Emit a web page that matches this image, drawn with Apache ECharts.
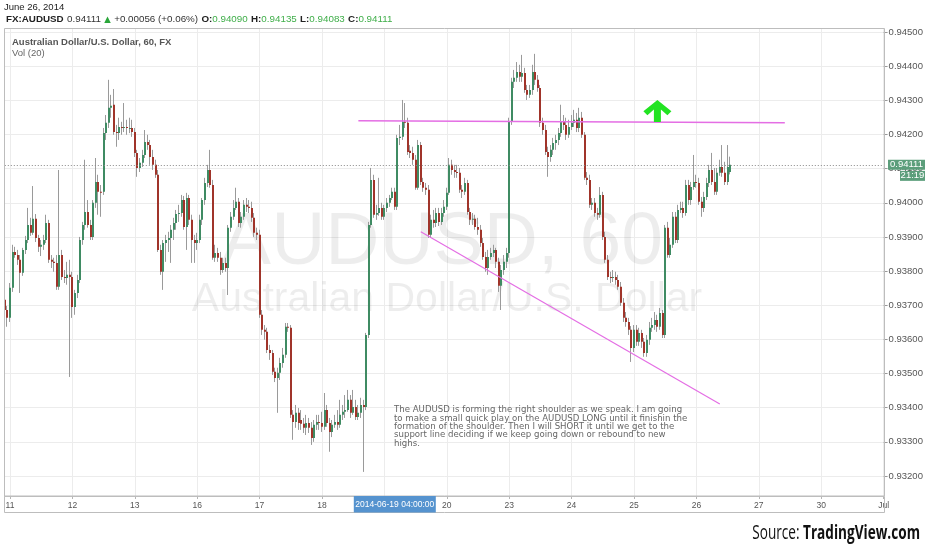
<!DOCTYPE html>
<html><head><meta charset="utf-8">
<script src="https://cdn.jsdelivr.net/npm/echarts/dist/echarts.min.js"></script>
<style>html,body{margin:0;padding:0;background:#fff}#c{width:932px;height:550px}</style>
</head><body><div id="c"></div>
<script>
// ---- time axis (hourly bars, FX trading days) ----
const tradingDays = ['2014-06-11','2014-06-12','2014-06-13','2014-06-16','2014-06-17','2014-06-18','2014-06-19','2014-06-20','2014-06-23','2014-06-24','2014-06-25','2014-06-26','2014-06-27','2014-06-30'];
const preHours = ['2014-06-10 22:00','2014-06-10 23:00'];
const endTime = '2014-07-01 00:00';
const tickDates = ['2014-06-11','2014-06-12','2014-06-13','2014-06-16','2014-06-17','2014-06-18','2014-06-19','2014-06-20','2014-06-23','2014-06-24','2014-06-25','2014-06-26','2014-06-27','2014-06-30','2014-07-01'];
const tickLabels = ['11','12','13','16','17','18','19','20','23','24','25','26','27','30','Jul'];

// ---- price ticks (units of 0.00001) ----
const priceMin = 93200, priceMax = 94500, priceStep = 100;

// ---- OHLC, units of 0.00001, first bar = 2014-06-10 22:00 ----
const opens = [
93716,93686,93663,93751,93856,93847,93833,93795,93862,93891,
93935,93912,93953,93897,93871,93877,93891,93941,93833,93827,
93824,93754,93847,93783,93780,93789,93783,93695,93736,93774,
93891,93935,93973,93935,93900,94000,94061,94032,94032,94204,
94234,94278,94287,94207,94204,94222,94219,94222,94219,94219,
94207,94146,94102,94117,94140,94178,94169,94134,94111,94082,
93862,93798,93882,93891,93897,93921,93941,93967,93970,94008,
93929,94014,93950,93891,93882,93891,93950,94008,94058,94096,
94052,93839,93853,93839,93803,93824,93809,93927,93959,93985,
94003,93941,93959,93994,93988,93985,93956,93912,93906,93672,
93628,93622,93569,93560,93505,93487,93502,93531,93555,93637,
93634,93379,93358,93385,93364,93353,93341,93355,93341,93311,
93350,93358,93355,93344,93393,93355,93329,93350,93358,93350,
93379,93388,93393,93423,93385,93402,93373,93385,93408,93402,
93613,93935,94067,93965,93970,93985,93959,93985,94000,94014,
94032,93988,94190,94193,94237,94234,94152,94146,94126,94044,
94169,94061,94044,94038,93906,93950,93941,93970,93944,93970,
93988,94029,94111,94096,94090,94088,94038,94032,94058,93973,
93950,93953,93929,93921,93882,93841,93809,93841,93853,93862,
93827,93757,93803,93827,93853,94237,94354,94366,94383,94369,
94380,94330,94316,94330,94383,94360,94336,94234,94213,94149,
94134,94155,94175,94184,94204,94237,94228,94199,94222,94234,
94243,94219,94249,94199,94073,94067,93994,94000,93970,93965,
94023,93900,93833,93783,93780,93783,93774,93754,93707,93663,
93651,93628,93575,93628,93593,93619,93593,93560,93599,93634,
93642,93657,93637,93677,93613,93927,93847,93877,93959,93891,
93979,93985,93970,94052,94008,94046,94061,94058,94003,93985,
94017,94058,94096,94061,94032,94088,94105,94088,94061,94090];
const closes = [
93686,93663,93751,93856,93847,93833,93795,93862,93891,93935,
93912,93953,93897,93871,93877,93891,93941,93833,93827,93824,
93754,93847,93783,93780,93789,93783,93695,93736,93774,93891,
93935,93973,93935,93900,94000,94061,94032,94029,94204,94234,
94278,94284,94207,94204,94222,94219,94222,94219,94219,94207,
94146,94102,94117,94140,94178,94169,94134,94111,94082,93862,
93798,93882,93891,93897,93921,93941,93967,93970,94008,93929,
94014,93950,93891,93882,93891,93950,94008,94058,94096,94052,
93839,93853,93839,93803,93824,93809,93927,93959,93985,94003,
93941,93959,93994,93988,93985,93956,93912,93906,93672,93628,
93622,93569,93560,93505,93487,93502,93531,93555,93637,93634,
93379,93358,93385,93355,93353,93341,93355,93341,93311,93350,
93358,93355,93344,93393,93355,93329,93350,93358,93350,93379,
93388,93393,93423,93385,93402,93373,93385,93408,93402,93613,
93935,94067,93965,93970,93985,93959,93985,94000,94014,94032,
93988,94190,94193,94237,94234,94149,94146,94126,94044,94169,
94061,94044,94038,93906,93950,93941,93970,93944,93970,93988,
94029,94111,94096,94090,94088,94038,94032,94058,93973,93950,
93953,93929,93921,93882,93841,93809,93841,93853,93862,93827,
93757,93803,93827,93853,94237,94354,94366,94383,94369,94380,
94330,94316,94330,94383,94360,94336,94234,94213,94149,94134,
94155,94175,94184,94204,94237,94228,94199,94222,94234,94243,
94219,94249,94199,94073,94067,93994,94000,93970,93965,94023,
93900,93833,93783,93780,93783,93774,93754,93707,93663,93651,
93628,93575,93628,93593,93619,93593,93560,93599,93634,93642,
93657,93637,93677,93613,93927,93847,93877,93959,93891,93979,
93985,93970,94052,94008,94046,94061,94058,94003,93985,94017,
94058,94096,94061,94032,94088,94105,94088,94061,94105,94111];
const lows = [
93666,93637,93651,93739,93839,93818,93736,93786,93850,93882,
93903,93906,93885,93856,93844,93862,93882,93824,93809,93798,
93745,93745,93774,93765,93760,93490,93663,93672,93721,93765,
93877,93921,93927,93891,93891,93985,93965,93959,94023,94184,
94219,94249,94199,94164,94184,94199,94207,94199,94204,94193,
94134,94076,94090,94105,94131,94155,94111,94096,94073,93856,
93789,93745,93827,93856,93824,93891,93921,93944,93959,93921,
93862,93935,93824,93824,93862,93882,93935,93994,94046,94044,
93833,93827,93827,93789,93795,93798,93730,93915,93950,93979,
93929,93927,93950,93973,93970,93944,93900,93891,93663,93613,
93599,93560,93540,93496,93475,93385,93481,93517,93546,93622,
93370,93306,93341,93335,93335,93326,93320,93326,93291,93300,
93335,93335,93329,93335,93344,93271,93314,93341,93335,93341,
93364,93370,93388,93370,93379,93364,93364,93370,93212,93393,
93604,93927,93956,93950,93962,93950,93950,93973,93988,94008,
93979,93979,94169,94184,94219,94140,94131,94111,94038,94038,
94052,94032,94023,93897,93897,93927,93929,93932,93935,93959,
93979,94023,94082,94073,94073,94029,94014,94023,93965,93935,
93935,93921,93906,93871,93833,93798,93789,93833,93841,93809,
93739,93686,93789,93809,93839,94228,94336,94354,94354,94354,
94322,94301,94307,94316,94345,94325,94222,94199,94140,94076,
94120,94140,94155,94169,94193,94213,94184,94190,94213,94222,
94207,94207,94190,94067,94052,93985,93979,93959,93950,93956,
93891,93824,93774,93765,93768,93760,93745,93698,93651,93637,
93613,93534,93563,93581,93581,93575,93549,93549,93584,93622,
93628,93622,93628,93604,93604,93839,93839,93868,93882,93882,
93970,93956,93962,93994,93994,94038,94044,93994,93959,93973,
94008,94046,94052,94023,94023,94079,94076,94052,94052,94083];
const highs = [
93736,93698,93765,93877,93871,93862,93847,93868,93903,93985,
93956,94049,93967,93906,93891,93906,93965,93950,93847,93839,
93847,94096,93862,93803,93827,93833,93798,93745,93789,93900,
93944,94126,94008,93950,94008,94131,94082,94052,94219,94257,
94360,94316,94333,94228,94249,94237,94292,94243,94249,94243,
94219,94155,94131,94155,94213,94199,94184,94155,94126,94096,
93877,93891,93906,93915,93935,93956,93979,93994,94023,94020,
94029,94023,93965,93906,93912,93965,94014,94073,94111,94155,
94067,93877,93868,93856,93839,93839,93935,93973,94008,94044,
94014,93973,94008,94014,94008,94003,93970,93927,93921,93686,
93642,93634,93584,93569,93517,93517,93546,93575,93648,93648,
93642,93393,93408,93399,93393,93370,93379,93370,93358,93364,
93379,93379,93388,93443,93408,93370,93364,93379,93393,93423,
93408,93437,93452,93437,93452,93423,93408,93429,93423,93619,
93944,94102,94082,93994,94073,94000,93994,94014,94023,94044,
94044,94199,94228,94301,94292,94249,94169,94164,94140,94184,
94178,94073,94058,94052,93965,93979,93985,93985,93985,94008,
94044,94131,94126,94111,94111,94102,94052,94073,94067,93985,
93970,93965,93956,93935,93897,93856,93862,93868,93877,93868,
93839,93818,93847,93868,94249,94366,94389,94412,94404,94433,
94395,94345,94345,94404,94436,94374,94345,94249,94228,94164,
94169,94190,94199,94219,94287,94257,94249,94243,94257,94272,
94263,94278,94266,94207,94090,94082,94014,94014,93985,94046,
94032,93915,93847,93798,93803,93798,93789,93768,93721,93680,
93663,93639,93642,93642,93634,93628,93604,93613,93651,93663,
93680,93672,93692,93686,93935,93944,93897,93973,93973,93994,
94003,94003,94067,94067,94061,94140,94082,94073,94017,94032,
94073,94111,94146,94102,94102,94126,94169,94120,94169,94135];

// ---- chart drawings (time, price) ----
const necklineTimes = ['2014-06-18 14:00','2014-06-27 10:00'];
const necklinePrices = [94240, 94234];
const supportTimes = ['2014-06-19 14:00','2014-06-26 09:00'];
const supportPrices = [93915, 93411];
const arrowTime = '2014-06-25 09:00';
const arrowPrice = 94269;
const crosshairTime = '2014-06-19 04:00';
const crosshairLabel = '2014-06-19 04:00:00';
const lastPrice = 94111;
const countdown = '21:19';

const noteLines = [
 'The AUDUSD is forming the right shoulder as we speak. I am going',
 'to make a small quick play on the AUDUSD LONG until it finishin the',
 'formation of the shoulder. Then I will SHORT it until we get to the',
 'support line deciding if we keep going down or rebound to new',
 'highs.'
];

// ---- build ----
const times = preHours.slice();
tradingDays.forEach(d => { for (let h = 0; h < 24; h++) times.push(d + ' ' + String(h).padStart(2,'0') + ':00'); });
times.push(endTime);
const isMidnight = (i, v) => String(v).slice(11) === '00:00';
const dayFmt = v => { const k = tickDates.indexOf(String(v).slice(0,10)); return (String(v).slice(11)==='00:00' && k>=0) ? tickLabels[k] : ''; };

const candles = opens.map((o, i) => [i, o, closes[i], lows[i], highs[i]]);

function renderCandle(params, api) {
  const idx = api.value(0);
  const o = api.value(1), c = api.value(2), l = api.value(3), h = api.value(4);
  const pO = api.coord([idx, o]), pC = api.coord([idx, c]);
  const pL = api.coord([idx, l]), pH = api.coord([idx, h]);
  const x0 = Math.round(pO[0] - 1);
  const up = c >= o;
  const top = Math.min(pO[1], pC[1]), bot = Math.max(pO[1], pC[1]);
  return { type: 'group', children: [
    { type: 'line', shape: { x1: x0 + 0.5, y1: pH[1], x2: x0 + 0.5, y2: pL[1] }, style: { stroke: '#9a9a9a', lineWidth: 1 } },
    { type: 'rect', shape: { x: x0, y: top, width: 2, height: Math.max(bot - top, 1) }, style: { fill: up ? '#3f8b63' : '#a0342a' } }
  ]};
}

const FONT = '"Liberation Sans", Arial, sans-serif';
const chart = echarts.init(document.getElementById('c'), null, { renderer: 'canvas' });
const option = {
  animation: false,
  backgroundColor: '#fff',
  grid: [
    { left: 4.8, right: 48.4, top: 32, bottom: 74 },
    { left: 4.8, right: 48.4, top: 28, bottom: 54 }
  ],
  xAxis: [
    { type: 'category', gridIndex: 0, data: times, boundaryGap: false, show: false },
    { type: 'category', gridIndex: 1, data: times, boundaryGap: false,
      axisLine: { show: true, lineStyle: { color: '#b5b5b5' } },
      axisTick: { show: true, interval: isMidnight, length: 3, inside: false, lineStyle: { color: '#b5b5b5' } },
      axisLabel: { interval: isMidnight, formatter: dayFmt, fontSize: 8.5, color: '#555', margin: 5, fontFamily: FONT },
      splitLine: { show: true, interval: isMidnight, lineStyle: { color: '#ececec' } } }
  ],
  yAxis: [
    { type: 'value', gridIndex: 0, position: 'right', min: priceMin, max: priceMax, interval: priceStep,
      axisLine: { show: false },
      axisTick: { show: true, length: 4, lineStyle: { color: '#999' } },
      axisLabel: { formatter: v => (v / 1e5).toFixed(5), fontSize: 9.5, color: '#555', margin: 5, fontFamily: FONT },
      splitLine: { show: true, lineStyle: { color: '#ececec' } } },
    { type: 'value', gridIndex: 1, min: 0, max: 1, show: false, splitLine: { show: false } }
  ],
  series: [
    { type: 'custom', name: 'AUDUSD', xAxisIndex: 0, yAxisIndex: 0, renderItem: renderCandle,
      data: candles, encode: { x: 0, y: [1, 2, 3, 4] }, z: 3 },
    { type: 'line', xAxisIndex: 0, yAxisIndex: 0, data: [], z: 4,
      markLine: { silent: true, symbol: ['none', 'none'], label: { show: false },
        data: [
          [ { coord: [necklineTimes[0], necklinePrices[0]], lineStyle: { color: '#e46ee4', width: 1.5, type: 'solid' } },
            { coord: [necklineTimes[1], necklinePrices[1]] } ],
          [ { coord: [supportTimes[0], supportPrices[0]], lineStyle: { color: '#e46ee4', width: 1.2, type: 'solid' } },
            { coord: [supportTimes[1], supportPrices[1]] } ],
          { yAxis: lastPrice, lineStyle: { color: '#888', width: 1, type: [1, 2] } }
        ] },
      markPoint: { silent: true, label: { show: false },
        data: [ { coord: [arrowTime, arrowPrice],
          symbol: 'path://M14,0 L28,12 L24,16 L17.5,10 L17.5,23 L10.5,23 L10.5,10 L4,16 L0,12 Z',
          symbolSize: [28, 22], itemStyle: { color: '#22e322' } } ] } }
  ]
};
chart.setOption(option);

const yLast = chart.convertToPixel({ yAxisIndex: 0 }, lastPrice);
const xCross = chart.convertToPixel({ xAxisIndex: 1 }, crosshairTime);
const SRC_FONT = '"Open Sans", "Liberation Sans", sans-serif';

chart.setOption({ graphic: [
  { type: 'text', x: 4, y: 7, z: 10, style: { text: 'June 26, 2014', font: '9.5px ' + FONT, fill: '#222', verticalAlign: 'middle' } },
  { type: 'text', x: 6, y: 19.5, z: 10, style: {
      text: '{b|FX:AUDUSD} {n|0.94111} {u|▲} {n|+0.00056 (+0.06%)} {b|O:}{g|0.94090} {b|H:}{g|0.94135} {b|L:}{g|0.94083} {b|C:}{g|0.94111}',
      verticalAlign: 'middle',
      rich: {
        b: { fontWeight: 'bold', fontSize: 9.8, fontFamily: FONT, fill: '#222' },
        n: { fontSize: 9.8, fontFamily: FONT, fill: '#333' },
        u: { fontSize: 8.5, fontFamily: '"DejaVu Sans"', fill: '#2aa63a' },
        g: { fontSize: 9.8, fontFamily: FONT, fill: '#3fae49' }
      } } },
  { type: 'rect', z: 9, silent: true, shape: { x: 4.5, y: 28.5, width: 880, height: 467.5 }, style: { fill: 'none', stroke: '#bdbdbd', lineWidth: 1 } },
  { type: 'rect', z: 9, silent: true, shape: { x: 4.5, y: 496.5, width: 880, height: 16 }, style: { fill: 'none', stroke: '#bdbdbd', lineWidth: 1 } },
  { type: 'text', x: 12, y: 42, z: 10, style: { text: 'Australian Dollar/U.S. Dollar, 60, FX', font: 'bold 9.5px ' + FONT, fill: '#555', verticalAlign: 'middle' } },
  { type: 'text', x: 12, y: 53, z: 10, style: { text: 'Vol (20)', font: '9.5px ' + FONT, fill: '#666', verticalAlign: 'middle' } },
  { type: 'text', x: 442, y: 243, z: 1, silent: true, style: { text: 'AUDUSD, 60', font: '75px ' + FONT, fill: 'rgba(0,0,0,0.07)', align: 'center', verticalAlign: 'middle' } },
  { type: 'text', x: 447, y: 300, z: 1, silent: true, style: { text: 'Australian Dollar/U.S. Dollar', font: '41px ' + FONT, fill: 'rgba(0,0,0,0.07)', align: 'center', verticalAlign: 'middle' } },
  { type: 'text', x: 394, y: 406, z: 10, style: { text: noteLines.join('\n'), font: '8.6px "DejaVu Sans"', fill: '#666', lineHeight: 8.3 } },
  { type: 'rect', z: 10, shape: { x: 888, y: yLast - 5, width: 37, height: 10 }, style: { fill: '#5c9e7b' } },
  { type: 'text', z: 11, x: 906.5, y: yLast, style: { text: (lastPrice / 1e5).toFixed(5), font: '9.5px ' + FONT, fill: '#fff', align: 'center', verticalAlign: 'middle' } },
  { type: 'rect', z: 10, shape: { x: 900, y: yLast + 6, width: 25, height: 10 }, style: { fill: '#5c9e7b' } },
  { type: 'text', z: 11, x: 912.5, y: yLast + 11, style: { text: countdown, font: '9.5px ' + FONT, fill: '#fff', align: 'center', verticalAlign: 'middle' } },
  { type: 'rect', z: 10, shape: { x: xCross - 41, y: 496, width: 82, height: 16.5 }, style: { fill: '#5593cf' } },
  { type: 'text', z: 11, x: xCross, y: 504.5, style: { text: crosshairLabel, font: '8.5px ' + FONT, fill: '#fff', align: 'center', verticalAlign: 'middle' } },
  { type: 'text', z: 10, x: 920, y: 533, scaleX: 0.68, style: {
      text: '{a|Source: }{b|TradingView.com}', align: 'right', verticalAlign: 'middle',
      rich: {
        a: { fontSize: 20, fontFamily: SRC_FONT, fill: '#111' },
        b: { fontSize: 20, fontWeight: 'bold', fontFamily: SRC_FONT, fill: '#111' }
      } } }
] });
</script></body></html>
